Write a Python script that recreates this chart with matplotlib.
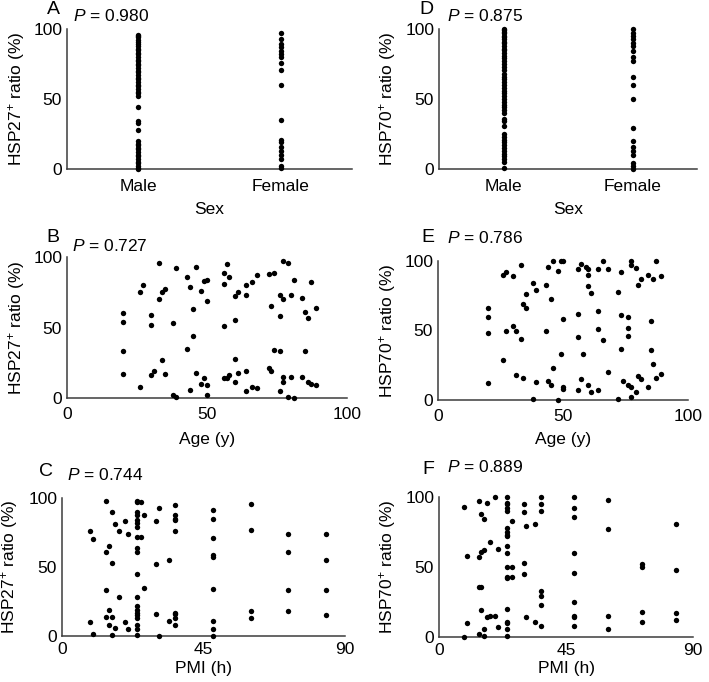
import matplotlib
matplotlib.use('Agg')
import matplotlib.pyplot as plt

plt.rcParams['font.family'] = ['Liberation Sans', 'DejaVu Sans']
plt.rcParams['mathtext.fontset'] = 'custom'
plt.rcParams['mathtext.rm'] = 'Liberation Sans'
plt.rcParams['mathtext.it'] = 'Liberation Sans:italic'

# ---- data ----
sex_labels = ['Male', 'Female']

hsp27_male = [96, 95, 94, 92, 91, 89, 88, 86, 85, 83, 82, 80, 78, 77, 75, 74, 72, 70,
              69, 67, 65, 64, 62, 60, 59, 57, 55, 54, 52, 44, 34, 33, 28, 20, 18, 17,
              15, 14, 12, 10, 9, 7, 5, 4, 2, 1, 0]
hsp27_female = [97, 93, 89, 87, 84, 82, 80, 76, 71, 60, 35, 21, 19, 16, 13, 10, 7, 2, 1]

hsp70_male = [100, 99, 98, 97, 95, 94, 93, 91, 90, 88, 86, 85, 83, 81, 79, 77, 75, 73,
              71, 68, 66, 64, 62, 60, 58, 56, 54, 52, 50, 48, 46, 44, 42, 40, 36, 34,
              31, 25, 23, 21, 19, 17, 15, 13, 11, 9, 7, 5, 1]
hsp70_female = [100, 97, 95, 93, 90, 88, 84, 80, 77, 66, 60, 50, 29, 20, 16, 13, 10, 4, 2, 0]

age_b = [20, 20, 20, 20, 26, 26, 27, 30, 30, 30, 31, 33, 33, 34, 34, 35, 35, 38, 38, 39,
         39, 43, 43, 44, 44, 45, 45, 46, 46, 48, 48, 49, 49, 50, 50, 50, 50, 56, 56, 56,
         56, 57, 57, 58, 58, 60, 60, 60, 60, 61, 61, 64, 64, 64, 64, 66, 66, 68, 68, 72,
         72, 73, 73, 74, 74, 76, 76, 76, 76, 77, 77, 77, 77, 79, 79, 80, 80, 81, 81, 84,
         84, 85, 85, 86, 86, 87, 87, 89, 89]
hsp27_age = [60, 54, 33, 17, 75, 8, 80, 52, 59, 16, 19, 70, 96, 27, 75, 77, 17, 53, 2, 1,
             92, 86, 35, 79, 6, 63, 44, 93, 18, 76, 10, 83, 14, 84, 9, 69, 2, 89, 81, 51,
             14, 95, 14, 86, 16, 72, 55, 28, 11, 75, 18, 80, 73, 19, 5, 82, 8, 87, 7, 88,
             21, 65, 19, 89, 34, 73, 58, 33, 5, 70, 15, 11, 97, 96, 1, 73, 15, 84, 0, 71,
             15, 61, 33, 57, 11, 82, 10, 64, 9]

age_e = [20, 20, 20, 20, 26, 26, 27, 27, 30, 30, 31, 31, 33, 33, 34, 34, 35, 35, 38, 38,
         39, 39, 43, 43, 44, 44, 45, 45, 46, 46, 48, 48, 49, 49, 50, 50, 50, 50, 56, 56,
         56, 56, 57, 57, 58, 59, 60, 60, 60, 60, 61, 61, 64, 64, 64, 64, 66, 66, 68, 68,
         72, 72, 73, 73, 73, 74, 76, 76, 76, 76, 77, 77, 77, 77, 79, 79, 80, 80, 81, 81,
         84, 84, 85, 85, 86, 86, 87, 87, 89, 89]
hsp70_age = [66, 60, 48, 12, 29, 90, 92, 50, 89, 53, 50, 18, 97, 44, 69, 16, 66, 76, 84, 1,
             13, 79, 83, 50, 96, 14, 11, 73, 23, 100, 93, 0, 100, 33, 100, 58, 9, 8, 62, 45,
             94, 7, 98, 15, 33, 96, 94, 90, 82, 11, 77, 6, 94, 64, 51, 7, 43, 100, 94, 20,
             78, 1, 37, 61, 92, 14, 60, 52, 46, 11, 100, 97, 9, 2, 95, 6, 83, 17, 87, 15,
             90, 9, 57, 36, 26, 87, 100, 16, 89, 19]

pmi_c = [9, 9, 10, 10, 14, 14, 14, 14, 15, 15, 15, 16, 16, 16, 16, 17, 17, 18, 18, 20, 20,
         21, 21, 24, 24, 24, 24, 24, 24, 24, 24, 24, 24, 24, 24, 24, 24, 24, 24, 24, 24,
         24, 24, 25, 25, 26, 26, 30, 30, 30, 31, 31, 34, 34, 36, 36, 36, 36, 36, 36, 36,
         36, 36, 48, 48, 48, 48, 48, 48, 48, 48, 48, 60, 60, 60, 60, 72, 72, 72, 72, 84,
         84, 84, 84]
hsp27_pmi = [76, 10, 70, 1.5, 98, 14, 61, 33, 65, 19, 8, 90, 53, 14, 1, 81, 6, 28, 76, 83, 10,
             74, 5, 98, 97, 90, 88, 84, 82, 79, 72, 64, 61, 45, 28, 22, 19, 17, 15, 13, 8,
             5, 1, 97, 72, 88, 35, 83, 16, 52, 93, 0, 55, 11, 95, 88, 85, 84, 76, 17, 16,
             13, 8, 91, 85, 71, 59, 57, 34, 11, 5, 0, 96, 77, 18, 13, 74, 61, 33, 18, 74,
             55, 33, 15]

pmi_f = [9, 9, 10, 10, 14, 14, 14, 14, 15, 15, 15, 15, 16, 16, 16, 16, 17, 17, 18, 18, 20,
         20, 21, 21, 24, 24, 24, 24, 24, 24, 24, 24, 24, 24, 24, 24, 24, 24, 24, 24, 24,
         24, 24, 26, 26, 26, 30, 30, 30, 30, 31, 31, 34, 34, 36, 36, 36, 36, 36, 36, 36,
         48, 48, 48, 48, 48, 48, 48, 48, 48, 60, 60, 60, 60, 72, 72, 72, 72, 84, 84, 84, 84]
hsp70_pmi = [93, 0, 58, 10, 97, 57, 36, 2, 36, 88, 61, 19, 62, 84, 6, 1, 96, 14, 68, 15, 100,
             15, 63, 7, 100, 96, 95, 92, 90, 78, 75, 73, 72, 65, 60, 50, 43, 42, 20, 11, 10,
             6, 1, 50, 43, 83, 95, 89, 53, 45, 79, 14, 81, 11, 100, 95, 90, 33, 29, 23, 8,
             100, 92, 86, 60, 46, 25, 15, 14, 8, 98, 77, 15, 6, 52, 50, 18, 11, 81, 48, 17, 12]

p_values = {'A': '0.980', 'B': '0.727', 'C': '0.744',
            'D': '0.875', 'E': '0.786', 'F': '0.889'}

# ---- layout (pixel boxes of the reference) ----
W, H = 709, 682
fig = plt.figure(figsize=(W / 100, H / 100), dpi=100)


def add_axes(left, top, right, bottom):
    return fig.add_axes([left / W, 1 - bottom / H, (right - left) / W, (bottom - top) / H])


def style(ax, ylabel, ylab_px, xlabel, xlab_px, xpad):
    for s in ['top', 'right']:
        ax.spines[s].set_visible(False)
    for s in ['left', 'bottom']:
        ax.spines[s].set_linewidth(1.1)
        ax.spines[s].set_color('#3c3c3c')
    ax.tick_params(axis='both', length=0, labelsize=12.5, colors='black')
    ax.tick_params(axis='y', pad=3.5)
    ax.tick_params(axis='x', pad=xpad)
    ax.set_ylim(0, 100)
    ax.set_yticks([0, 50, 100])
    bb = ax.get_position()
    left_px, width_px = bb.x0 * W, bb.width * W
    bottom_px, height_px = (1 - bb.y0) * H, bb.height * H
    ax.set_ylabel(ylabel, fontsize=12.5)
    ax.yaxis.set_label_coords((ylab_px - left_px) / width_px, 0.5)
    ax.set_xlabel(xlabel, fontsize=12.5)
    ax.xaxis.set_label_coords(0.5, (bottom_px - xlab_px) / height_px)


def dots(ax, x, y):
    ax.scatter(x, y, s=15, c='black', linewidths=0, clip_on=False, zorder=3)


def label(letter, lx, ly, px, py):
    fig.text(lx / W, 1 - ly / H, letter, fontsize=14, ha='center', va='center')
    fig.text(px / W, 1 - py / H, '$P$ = ' + p_values[letter], fontsize=12.5,
             ha='left', va='center')


ylab27 = 'HSP27$^{+}$ ratio (%)'
ylab70 = 'HSP70$^{+}$ ratio (%)'

# A: HSP27 vs sex
ax = add_axes(67, 29, 352, 169)
dots(ax, [sex_labels[0]] * len(hsp27_male), hsp27_male)
dots(ax, [sex_labels[1]] * len(hsp27_female), hsp27_female)
ax.set_xlim(-0.5, 1.5)
style(ax, ylab27, 27, 'Sex', 202, 7)
label('A', 53, 10, 73, 16)

# D: HSP70 vs sex
ax = add_axes(439, 29, 697, 169)
dots(ax, [sex_labels[0]] * len(hsp70_male), hsp70_male)
dots(ax, [sex_labels[1]] * len(hsp70_female), hsp70_female)
ax.set_xlim(-0.5, 1.5)
style(ax, ylab70, 398, 'Sex', 202, 7)
label('D', 426, 10, 447, 16)

# B: HSP27 vs age
ax = add_axes(67, 257, 347, 398)
dots(ax, age_b, hsp27_age)
ax.set_xlim(0, 100)
ax.set_xticks([0, 50, 100])
style(ax, ylab27, 27, 'Age (y)', 432, 6.5)
label('B', 53, 238, 72, 246)

# E: HSP70 vs age
ax = add_axes(438, 261, 688, 400)
dots(ax, age_e, hsp70_age)
ax.set_xlim(0, 100)
ax.set_xticks([0, 50, 100])
style(ax, ylab70, 398, 'Age (y)', 432, 6.5)
label('E', 428, 238, 447, 238)

# C: HSP27 vs PMI
ax = add_axes(62, 498, 345, 636)
dots(ax, pmi_c, hsp27_pmi)
ax.set_xlim(0, 90)
ax.set_xticks([0, 45, 90])
style(ax, ylab27, 20, 'PMI (h)', 661, 4.5)
label('C', 46, 471, 67, 475)

# F: HSP70 vs PMI
ax = add_axes(439, 497, 693, 637)
dots(ax, pmi_f, hsp70_pmi)
ax.set_xlim(0, 90)
ax.set_xticks([0, 45, 90])
style(ax, ylab70, 398, 'PMI (h)', 661, 4.5)
label('F', 428, 469, 447, 467)

fig.savefig('out.png', dpi=100)
